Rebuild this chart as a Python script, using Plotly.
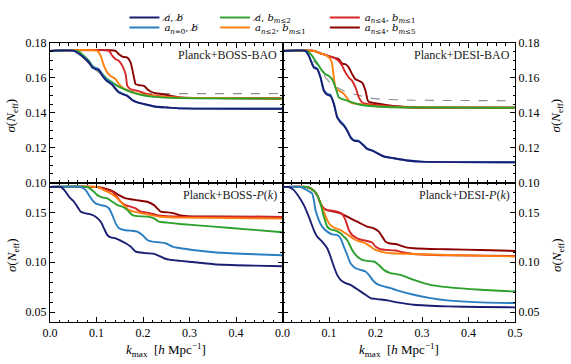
import plotly.graph_objects as go
from plotly.subplots import make_subplots

# ---------------- data (k_max [h/Mpc], sigma(N_eff)) ----------------
PANELS = ["Planck+BOSS-BAO", "Planck+DESI-BAO", "Planck+BOSS-<i>P</i>(<i>k</i>)", "Planck+DESI-<i>P</i>(<i>k</i>)"]

SERIES_NAMES = [
    "<i>a\u0338</i>, <i>b\u0338</i>",
    "<i>a</i><sub><i>n</i>=0</sub>, <i>b\u0338</i>",
    "<i>a\u0338</i>, <i>b</i><sub><i>m</i>≤2</sub>",
    "<i>a</i><sub><i>n</i>≤2</sub>, <i>b</i><sub><i>m</i>≤1</sub>",
    "<i>a</i><sub><i>n</i>≤4</sub>, <i>b</i><sub><i>m</i>≤1</sub>",
    "<i>a</i><sub><i>n</i>≤4</sub>, <i>b</i><sub><i>m</i>≤5</sub>",
]
COLORS = ["#1b1f73", "#2b7fc0", "#2ca02c", "#ff7f0e", "#d62728", "#8b0000"]

# Planck+BOSS-BAO
BB_NONE = [(0, 0.1755), (0.052, 0.1755), (0.073, 0.1716), (0.084, 0.1688), (0.091, 0.1659), (0.098, 0.1650),
           (0.105, 0.1644), (0.113, 0.1611), (0.120, 0.1587), (0.127, 0.1573), (0.134, 0.1560), (0.141, 0.1535),
           (0.148, 0.1516), (0.156, 0.1507), (0.166, 0.1497), (0.177, 0.1472), (0.188, 0.1459), (0.202, 0.1450),
           (0.224, 0.1436), (0.252, 0.1430), (0.281, 0.1425), (0.5, 0.1423)]
BB_A0 = [(0, 0.1755), (0.052, 0.1755), (0.073, 0.1718), (0.084, 0.1692), (0.091, 0.1665), (0.098, 0.1657),
         (0.105, 0.1650), (0.113, 0.1618), (0.120, 0.1594), (0.127, 0.1580), (0.134, 0.1566), (0.141, 0.1540),
         (0.148, 0.1520), (0.156, 0.1510), (0.166, 0.1499), (0.177, 0.1474), (0.188, 0.1460), (0.202, 0.1450),
         (0.224, 0.1436), (0.252, 0.1430), (0.281, 0.1425), (0.5, 0.1423)]
BB_B2 = [(0, 0.1755), (0.0588, 0.1755), (0.0731, 0.1726), (0.0839, 0.1697), (0.091, 0.1669), (0.1018, 0.1650),
         (0.1125, 0.1621), (0.1233, 0.1592), (0.134, 0.1573), (0.1448, 0.1554), (0.1591, 0.1535),
         (0.1735, 0.1520), (0.195, 0.1503), (0.2237, 0.1491), (0.281, 0.1484), (0.5, 0.1481)]
BB_A2B1 = [(0, 0.1755), (0.1018, 0.1755), (0.109, 0.1726), (0.1161, 0.1669), (0.1233, 0.1630), (0.1305, 0.1611),
           (0.1412, 0.1592), (0.1484, 0.1564), (0.1556, 0.1545), (0.1699, 0.1526), (0.1878, 0.1510),
           (0.2093, 0.1501), (0.2452, 0.1491), (0.281, 0.1486), (0.5, 0.1482)]
BB_A4B1 = [(0, 0.1755), (0.1269, 0.1755), (0.134, 0.1726), (0.1412, 0.1707), (0.1484, 0.1697), (0.1556, 0.1669),
           (0.1627, 0.1621), (0.1663, 0.1554), (0.1735, 0.1535), (0.1878, 0.1526), (0.1986, 0.1516),
           (0.2093, 0.1507), (0.2308, 0.1497), (0.2595, 0.1491), (0.281, 0.1487), (0.5, 0.1482)]
BB_A4B5 = [(0, 0.1755), (0.1412, 0.1755), (0.1484, 0.1735), (0.1556, 0.1722), (0.1663, 0.1716), (0.1735, 0.1688),
           (0.1806, 0.1602), (0.1842, 0.1564), (0.1914, 0.1558), (0.2022, 0.1554), (0.2093, 0.1535),
           (0.2165, 0.1522), (0.2272, 0.1512), (0.2416, 0.1507), (0.2595, 0.1497), (0.281, 0.1488), (0.5, 0.1482)]
BB_REF = [(0, 0.1755), (0.06, 0.1755), (0.073, 0.1712), (0.09, 0.1662), (0.11, 0.1620), (0.13, 0.1582),
          (0.15, 0.1550), (0.17, 0.1527), (0.20, 0.1512), (0.25, 0.1510), (0.5, 0.1510)]

# Planck+DESI-BAO
DB_NONE = [(0, 0.1755), (0.0495, 0.1755), (0.0566, 0.1726), (0.0638, 0.1678), (0.0674, 0.1659), (0.0746, 0.1650),
           (0.0817, 0.1602), (0.0889, 0.1526), (0.0961, 0.1503), (0.1032, 0.1497), (0.1104, 0.1450),
           (0.1176, 0.1373), (0.1247, 0.1345), (0.1319, 0.1326), (0.1391, 0.1297), (0.1462, 0.1259),
           (0.1534, 0.1240), (0.1642, 0.1236), (0.1749, 0.1211), (0.1821, 0.1192), (0.1928, 0.1183),
           (0.2036, 0.1168), (0.2179, 0.1149), (0.2394, 0.1139), (0.2681, 0.1126), (0.2968, 0.1120), (0.5, 0.1116)]
DB_A0 = [(0, 0.1755), (0.0495, 0.1755), (0.0566, 0.1728), (0.0638, 0.1682), (0.0674, 0.1664), (0.0746, 0.1655),
         (0.0817, 0.1606), (0.0889, 0.1531), (0.0961, 0.1509), (0.1032, 0.1502), (0.1104, 0.1455),
         (0.1176, 0.1378), (0.1247, 0.1351), (0.1319, 0.1331), (0.1391, 0.1300), (0.1462, 0.1262),
         (0.1534, 0.1243), (0.1642, 0.1238), (0.1749, 0.1213), (0.1821, 0.1194), (0.1928, 0.1184),
         (0.2036, 0.1169), (0.2179, 0.1150), (0.2394, 0.1139), (0.2681, 0.1126), (0.2968, 0.1120), (0.5, 0.1116)]
DB_B2 = [(0, 0.1755), (0.053, 0.1755), (0.0638, 0.1726), (0.071, 0.1697), (0.0781, 0.1669), (0.0853, 0.1640),
         (0.0925, 0.1621), (0.0996, 0.1611), (0.1068, 0.1592), (0.114, 0.1545), (0.1211, 0.1488),
         (0.1283, 0.1478), (0.1391, 0.1469), (0.1498, 0.1459), (0.1606, 0.1450), (0.1821, 0.1440),
         (0.2108, 0.1434), (0.2824, 0.1430), (0.5, 0.1429)]
DB_A2B1 = [(0, 0.1755), (0.0674, 0.1755), (0.0817, 0.1741), (0.0961, 0.1726), (0.1032, 0.1707), (0.1068, 0.1678),
           (0.1104, 0.1602), (0.114, 0.1545), (0.1211, 0.1526), (0.1283, 0.1516), (0.1355, 0.1497),
           (0.1427, 0.1469), (0.1498, 0.1455), (0.1642, 0.1450), (0.1821, 0.1444), (0.2108, 0.1436),
           (0.2824, 0.1430), (0.5, 0.1429)]
DB_A4B1 = [(0, 0.1755), (0.0674, 0.1755), (0.0817, 0.1741), (0.0961, 0.1728), (0.1104, 0.1716), (0.1211, 0.1697),
           (0.1283, 0.1669), (0.1355, 0.1630), (0.1427, 0.1602), (0.1498, 0.1583), (0.157, 0.1545),
           (0.1642, 0.1488), (0.1713, 0.1459), (0.1821, 0.1450), (0.1964, 0.1446), (0.2251, 0.1438),
           (0.2824, 0.1430), (0.5, 0.1429)]
DB_A4B5 = [(0, 0.1755), (0.0674, 0.1755), (0.0817, 0.1741), (0.0961, 0.1728), (0.1104, 0.1716), (0.1211, 0.1707),
           (0.1283, 0.1682), (0.1355, 0.1678), (0.1427, 0.1659), (0.1498, 0.1621), (0.157, 0.1592),
           (0.1642, 0.1583), (0.1713, 0.1573), (0.1785, 0.1526), (0.1835, 0.1469), (0.1892, 0.1459),
           (0.2036, 0.1453), (0.2251, 0.1444), (0.2538, 0.1436), (0.2824, 0.1430), (0.5, 0.1429)]
DB_REF = [(0, 0.1755), (0.05, 0.1755), (0.065, 0.1700), (0.0817, 0.1660), (0.0925, 0.1602), (0.1032, 0.1570),
          (0.1176, 0.1545), (0.1319, 0.1526), (0.1462, 0.1512), (0.1677, 0.1497), (0.1892, 0.1484),
          (0.2108, 0.1478), (0.2824, 0.1472), (0.5, 0.1469)]

# Planck+BOSS-P(k)
BP_NONE = [(0, 0.1755), (0.0229, 0.1755), (0.0337, 0.1707), (0.0409, 0.1657), (0.0516, 0.1607), (0.0588, 0.1557),
           (0.066, 0.1507), (0.0767, 0.1490), (0.0875, 0.1480), (0.0982, 0.1457), (0.109, 0.1407),
           (0.1161, 0.1340), (0.1233, 0.1273), (0.1305, 0.1250), (0.1412, 0.1240), (0.152, 0.1217),
           (0.1627, 0.1190), (0.1735, 0.1157), (0.1842, 0.1107), (0.195, 0.1097), (0.2093, 0.1090),
           (0.2237, 0.1083), (0.2344, 0.1063), (0.2452, 0.1040), (0.2595, 0.1023), (0.281, 0.1013),
           (0.3168, 0.0997), (0.3527, 0.0980), (0.4244, 0.0967), (0.5, 0.0960)]
BP_A0 = [(0, 0.1755), (0.066, 0.1755), (0.0767, 0.1723), (0.0839, 0.1673), (0.091, 0.1623), (0.0982, 0.1590),
         (0.109, 0.1573), (0.1197, 0.1563), (0.1269, 0.1540), (0.134, 0.1473), (0.1412, 0.1390),
         (0.1484, 0.1340), (0.1591, 0.1323), (0.1735, 0.1317), (0.1878, 0.1307), (0.1986, 0.1273),
         (0.2093, 0.1223), (0.2201, 0.1207), (0.2344, 0.1200), (0.2487, 0.1190), (0.2631, 0.1157),
         (0.281, 0.1140), (0.3168, 0.1117), (0.3527, 0.1100), (0.4244, 0.1083), (0.5, 0.1070)]
BP_B2 = [(0, 0.1755), (0.08, 0.1755), (0.091, 0.1723), (0.1018, 0.1673), (0.1125, 0.1650), (0.1233, 0.1640),
         (0.134, 0.1607), (0.1448, 0.1573), (0.1556, 0.1557), (0.1663, 0.1523), (0.1771, 0.1473),
         (0.1878, 0.1463), (0.2093, 0.1457), (0.2237, 0.1440), (0.2344, 0.1407), (0.2523, 0.1397),
         (0.281, 0.1383), (0.3527, 0.1357), (0.4244, 0.1330), (0.5, 0.1300)]
BP_A2B1 = [(0, 0.1755), (0.1018, 0.1755), (0.1161, 0.1723), (0.1305, 0.1690), (0.1412, 0.1657), (0.1484, 0.1623),
           (0.1591, 0.1573), (0.1699, 0.1523), (0.1806, 0.1507), (0.1986, 0.1490), (0.2165, 0.1473),
           (0.238, 0.1457), (0.281, 0.1447), (0.5, 0.1437)]
BP_A4B1 = [(0, 0.1755), (0.1018, 0.1755), (0.1197, 0.1730), (0.134, 0.1707), (0.1412, 0.1673), (0.152, 0.1607),
           (0.1627, 0.1573), (0.1735, 0.1557), (0.1842, 0.1540), (0.195, 0.1507), (0.2057, 0.1500),
           (0.2165, 0.1490), (0.2308, 0.1473), (0.2523, 0.1463), (0.281, 0.1457), (0.5, 0.1455)]
BP_A4B5 = [(0, 0.1755), (0.1018, 0.1755), (0.1233, 0.1733), (0.1376, 0.1707), (0.1484, 0.1673), (0.1627, 0.1640),
           (0.1771, 0.1630), (0.195, 0.1617), (0.2093, 0.1607), (0.2237, 0.1573), (0.238, 0.1507),
           (0.2523, 0.1500), (0.2667, 0.1490), (0.2774, 0.1473), (0.2953, 0.1463), (0.3527, 0.1460), (0.5, 0.1455)]

# Planck+DESI-P(k)
DP_NONE = [(0, 0.1755), (0.0136, 0.1755), (0.0244, 0.1723), (0.0351, 0.1657), (0.0459, 0.1573), (0.0566, 0.1457),
           (0.0674, 0.1323), (0.0746, 0.1257), (0.0853, 0.1207), (0.0961, 0.1140), (0.1032, 0.1057),
           (0.1104, 0.0957), (0.1176, 0.0873), (0.1247, 0.0823), (0.1355, 0.0790), (0.1462, 0.0773),
           (0.157, 0.0740), (0.1677, 0.0707), (0.1785, 0.0673), (0.1892, 0.0640), (0.2036, 0.0630),
           (0.2251, 0.0617), (0.2466, 0.0597), (0.2824, 0.0573), (0.3541, 0.0557), (0.4258, 0.0550), (0.5, 0.0547)]
DP_A0 = [(0, 0.1755), (0.0387, 0.1755), (0.053, 0.1723), (0.0638, 0.1690), (0.0674, 0.1623), (0.071, 0.1523),
         (0.0781, 0.1423), (0.0853, 0.1357), (0.0961, 0.1307), (0.1068, 0.1280), (0.1176, 0.1273),
         (0.1247, 0.1240), (0.1319, 0.1157), (0.1391, 0.1073), (0.1462, 0.0990), (0.157, 0.0940),
         (0.1677, 0.0923), (0.1785, 0.0907), (0.1857, 0.0873), (0.1964, 0.0807), (0.2072, 0.0773),
         (0.2179, 0.0757), (0.2323, 0.0740), (0.2466, 0.0717), (0.2824, 0.0673), (0.3183, 0.0640),
         (0.3541, 0.0617), (0.4258, 0.0597), (0.5, 0.0590)]
DP_B2 = [(0, 0.1755), (0.053, 0.1755), (0.0674, 0.1717), (0.0746, 0.1673), (0.0817, 0.1590), (0.0889, 0.1457),
         (0.0961, 0.1357), (0.1032, 0.1330), (0.114, 0.1317), (0.1247, 0.1290), (0.1319, 0.1257),
         (0.1391, 0.1223), (0.1498, 0.1123), (0.1606, 0.1057), (0.1713, 0.1023), (0.1821, 0.1013),
         (0.1964, 0.1007), (0.2072, 0.0973), (0.2179, 0.0923), (0.2323, 0.0890), (0.2538, 0.0873),
         (0.2824, 0.0823), (0.3183, 0.0773), (0.3541, 0.0750), (0.4258, 0.0723), (0.5, 0.0707)]
DP_A2B1 = [(0, 0.1755), (0.053, 0.1755), (0.0674, 0.1717), (0.0746, 0.1673), (0.0817, 0.1590), (0.0889, 0.1507),
           (0.0961, 0.1423), (0.1032, 0.1373), (0.114, 0.1340), (0.1247, 0.1323), (0.1355, 0.1290),
           (0.1462, 0.1257), (0.157, 0.1223), (0.1677, 0.1207), (0.1785, 0.1190), (0.1892, 0.1157),
           (0.2, 0.1123), (0.2108, 0.1107), (0.2323, 0.1090), (0.2824, 0.1083), (0.3541, 0.1073), (0.5, 0.1057)]
DP_A4B1 = [(0, 0.1755), (0.053, 0.1755), (0.0674, 0.1717), (0.0746, 0.1673), (0.0817, 0.1590), (0.0889, 0.1540),
           (0.0961, 0.1523), (0.1068, 0.1517), (0.1176, 0.1507), (0.1283, 0.1483), (0.1355, 0.1423),
           (0.1427, 0.1323), (0.1498, 0.1273), (0.1606, 0.1240), (0.1713, 0.1223), (0.1821, 0.1213),
           (0.1928, 0.1197), (0.2, 0.1157), (0.2108, 0.1130), (0.2251, 0.1123), (0.243, 0.1117),
           (0.2609, 0.1097), (0.2824, 0.1083), (0.3541, 0.1070), (0.5, 0.1063)]
DP_A4B5 = [(0, 0.1755), (0.053, 0.1755), (0.0674, 0.1717), (0.0746, 0.1673), (0.0817, 0.1590), (0.0889, 0.1540),
           (0.0961, 0.1523), (0.1104, 0.1507), (0.1247, 0.1490), (0.1391, 0.1457), (0.1534, 0.1423),
           (0.1677, 0.1390), (0.1821, 0.1357), (0.1964, 0.1340), (0.2072, 0.1307), (0.2143, 0.1257),
           (0.2215, 0.1207), (0.2287, 0.1190), (0.243, 0.1183), (0.2538, 0.1167), (0.2681, 0.1147),
           (0.2824, 0.1140), (0.3183, 0.1133), (0.3541, 0.1130), (0.4258, 0.1123), (0.5, 0.1113)]

PANEL_SERIES = [
    [BB_NONE, BB_A0, BB_B2, BB_A2B1, BB_A4B1, BB_A4B5],
    [DB_NONE, DB_A0, DB_B2, DB_A2B1, DB_A4B1, DB_A4B5],
    [BP_NONE, BP_A0, BP_B2, BP_A2B1, BP_A4B1, BP_A4B5],
    [DP_NONE, DP_A0, DP_B2, DP_A2B1, DP_A4B1, DP_A4B5],
]
PANEL_REF = [BB_REF, DB_REF, None, None]

X_TICKS = [0.0, 0.1, 0.2, 0.3, 0.4, 0.5]
Y_TICKS_TOP = [0.10, 0.12, 0.14, 0.16, 0.18]
Y_TICKS_BOT = [0.05, 0.10, 0.15]

X_TITLE = "<i>k</i><sub>max</sub>  [<i>h</i> Mpc<sup>−1</sup>]"
Y_TITLE = "<i>σ</i>(<i>N</i><sub>eff</sub>)"

# ---------------- figure ----------------
FONT = "Liberation Serif"
fig = make_subplots(rows=2, cols=2, horizontal_spacing=0, vertical_spacing=0)

DRAW_ORDER = [5, 4, 3, 2, 1, 0]
LEGEND_IDS = ["legend", "legend2", "legend3", "legend4", "legend5", "legend6"]

for p in range(4):
    r, c = p // 2 + 1, p % 2 + 1
    ref = PANEL_REF[p]
    if ref is not None:
        fig.add_trace(go.Scatter(x=[q[0] for q in ref], y=[q[1] for q in ref], mode="lines",
                                 line=dict(color="#8c8c8c", width=1.1, dash="dash", shape="spline", smoothing=0.5),
                                 showlegend=False, hoverinfo="skip"), row=r, col=c)
    for i in DRAW_ORDER:
        data = PANEL_SERIES[p][i]
        fig.add_trace(go.Scatter(x=[q[0] for q in data], y=[q[1] for q in data], mode="lines",
                                 name=SERIES_NAMES[i], legend=LEGEND_IDS[i],
                                 line=dict(color=COLORS[i], width=1.9, shape="spline", smoothing=0.5),
                                 showlegend=(p == 0)), row=r, col=c)

axis_common = dict(showgrid=False, zeroline=False, showline=True, linecolor="black", linewidth=1,
                   ticks="inside", ticklen=5, tickcolor="black", tickwidth=1, mirror="allticks",
                   automargin=False, tickfont=dict(family=FONT, size=12, color="black"))

for p in range(4):
    r, c = p // 2 + 1, p % 2 + 1
    xt = ["%.1f" % v for v in X_TICKS]
    if c == 1:
        xt[-1] = ""
    fig.update_xaxes(range=[0, 0.5], tickmode="array", tickvals=X_TICKS, ticktext=xt,
                     showticklabels=(r == 2),
                     minor=dict(tickmode="linear", tick0=0, dtick=0.02, ticks="inside", ticklen=2.5,
                                tickcolor="black", showgrid=False),
                     row=r, col=c, **axis_common)
    if r == 1:
        yv, yr, md = Y_TICKS_TOP, [0.10, 0.18], 0.005
    else:
        yv, yr, md = Y_TICKS_BOT, [0.04, 0.18], 0.01
    fig.update_yaxes(range=yr, tickmode="array", tickvals=yv, ticktext=["%.2f" % v for v in yv],
                     side="left" if c == 1 else "right",
                     minor=dict(tickmode="linear", tick0=0, dtick=md, ticks="inside", ticklen=2.5,
                                tickcolor="black", showgrid=False),
                     row=r, col=c, **axis_common)

for p in range(4):
    r, c = p // 2 + 1, p % 2 + 1
    idx = "" if p == 0 else str(p + 1)
    fig.add_annotation(text=PANELS[p], xref="x%s domain" % idx, yref="y%s domain" % idx,
                       x=0.985, y=0.975, xanchor="right", yanchor="top", showarrow=False,
                       font=dict(family=FONT, size=12, color="#222222"))
    # y axis titles (left column on the left, right column on the right)
    fig.add_annotation(text=Y_TITLE, xref="paper", yref="y%s domain" % idx,
                       x=-0.0817 if c == 1 else 1.0903, y=0.48, xanchor="center", yanchor="middle",
                       textangle=-90, showarrow=False, font=dict(family=FONT, size=13, color="black"))
    if r == 2:
        fig.add_annotation(text=X_TITLE, xref="x%s domain" % idx, yref="paper",
                           x=0.5, y=-0.1004, xanchor="center", yanchor="middle",
                           showarrow=False, font=dict(family=FONT, size=13, color="black"))

# legend: 3 columns x 2 rows, each entry positioned on its own (top anchored)
LEG_X = [0.16, 0.16, 0.355, 0.355, 0.591, 0.591]
LEG_Y = [1.1434, 1.1075, 1.1434, 1.1075, 1.1434, 1.1075]
legends = {}
for i, lid in enumerate(LEGEND_IDS):
    legends[lid] = dict(orientation="v", x=LEG_X[i], y=LEG_Y[i], xanchor="left", yanchor="top",
                        bgcolor="rgba(0,0,0,0)", borderwidth=0, itemwidth=30,
                        font=dict(family="DejaVu Serif", size=10, color="black"))

fig.update_layout(
    width=571, height=364,
    margin=dict(l=50, r=56, t=43, b=42, autoexpand=False),
    paper_bgcolor="white", plot_bgcolor="white",
    font=dict(family=FONT, size=12, color="black"),
    **legends,
)

fig.write_html("out.html", config={"displayModeBar": False},
               post_script="document.body.style.margin='0px';")
